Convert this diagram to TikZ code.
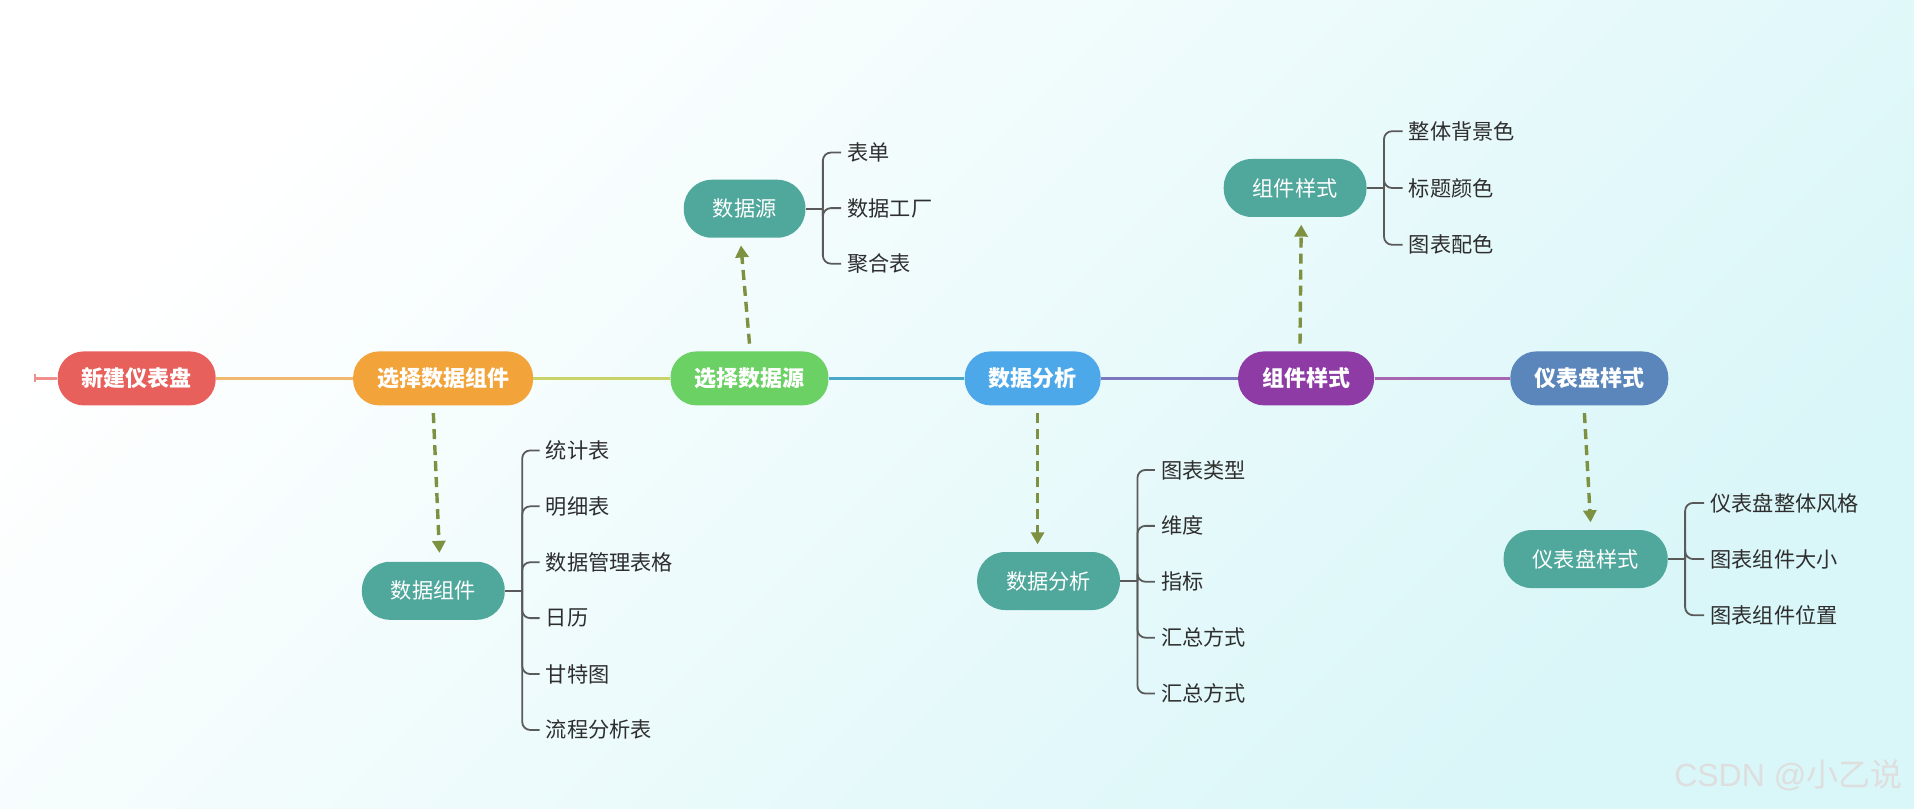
\documentclass[tikz,border=0pt]{standalone}
\usepackage{fontspec}
\setmainfont{Noto Sans CJK SC}
\newfontfamily\wmlatin{Liberation Sans}
\usetikzlibrary{arrows.meta,calc,positioning}

\definecolor{cred}{HTML}{E8605C}
\definecolor{corange}{HTML}{F2A33A}
\definecolor{cgreen}{HTML}{6CD165}
\definecolor{cblue}{HTML}{4DA8EA}
\definecolor{cpurple}{HTML}{8E3BA6}
\definecolor{csteel}{HTML}{5A86BC}
\definecolor{cteal}{HTML}{4FA89B}
\definecolor{colive}{HTML}{7E9140}
\definecolor{brgray}{HTML}{5A5A5A}
\definecolor{leafgray}{HTML}{2E2E2E}
\definecolor{bgcyan}{HTML}{D9F6F8}
\definecolor{sa}{HTML}{F0B870}
\definecolor{sb}{HTML}{C8D468}
\definecolor{sc}{HTML}{4CA8C8}
\definecolor{sd}{HTML}{7C78C0}
\definecolor{se}{HTML}{A866B0}

\tikzset{
    main/.style =   {rectangle,
                    rounded corners=13pt,
                    fill=#1,
                    text=white,
                    font=\fontsize{11}{13}\selectfont\bfseries,
                    inner xsep=12pt,
                    minimum height=27pt},
    sub/.style =    {rectangle,
                    rounded corners=14pt,
                    fill=cteal,
                    text=white,
                    font=\fontsize{10.6}{12}\selectfont,
                    inner xsep=14.5pt,
                    minimum height=29pt},
    leaf/.style =   {anchor=west,
                    text=leafgray,
                    font=\fontsize{10.6}{12}\selectfont,
                    inner xsep=3pt},
    flow/.style =   {draw=colive,
                    line width=1.7pt,
                    dash pattern=on 5pt off 3pt,
                    -{Triangle[width=6.5pt,length=6pt,fill=colive]}},
    bracket/.style ={draw=brgray,
                    line width=0.9pt,
                    rounded corners=4pt},
    spine/.style =  {line width=1.6pt},
    wm/.style =     {text=black!13,
                    font=\fontsize{16}{18}\selectfont}
}

\begin{document}
\begin{tikzpicture}[x=0.6104pt,y=-0.6104pt]
    % background
    \useasboundingbox (0,0) rectangle (1568,662);
    \shade[top color=white,bottom color=bgcyan,shading angle=45] (0,0) rectangle (1568,662);

    % main line
    \coordinate (st) at (28,310);
    \node[main=cred]    (xj) at (112,310)  {新建仪表盘};
    \node[main=corange] (zz) at (363,310)  {选择数据组件};
    \node[main=cgreen]  (ys) at (614,310)  {选择数据源};
    \node[main=cblue]   (fx) at (846,310)  {数据分析};
    \node[main=cpurple] (zs) at (1070,310) {组件样式};
    \node[main=csteel]  (yb) at (1302,310) {仪表盘样式};
    \draw[spine,draw=cred!70,{Bar[width=4pt,line width=1pt]}-] (st) -- (xj);
    \draw[spine,draw=sa] (xj) -- (zz);
    \draw[spine,draw=sb] (zz) -- (ys);
    \draw[spine,draw=sc] (ys) -- (fx);
    \draw[spine,draw=sd] (fx) -- (zs);
    \draw[spine,draw=se] (zs) -- (yb);

    % detail nodes
    \node[sub] (dz)  at (355,484)  {数据组件};
    \node[sub] (sy)  at (610,171)  {数据源};
    \node[sub] (fa)  at (859,476)  {数据分析};
    \node[sub] (cs)  at (1061,154) {组件样式};
    \node[sub] (ybs) at (1299,458) {仪表盘样式};

    \draw[flow] ($(zz.south)+(-8,6)$) -- ($(dz.north)+(5,-7)$);
    \draw[flow] ($(ys.north)+(0,-6)$) -- ($(sy.south)+(-3,6)$);
    \draw[flow] ($(fx.south)+(4,6)$)  -- ($(fa.north)+(-9,-6)$);
    \draw[flow] ($(zs.north)+(-5,-6)$) -- ($(cs.south)+(5,6)$);
    \draw[flow] ($(yb.south)+(-4,6)$) -- ($(ybs.north)+(4,-6)$);

    % leaves
    \foreach \t [count=\i] in {统计表,明细表,数据管理表格,日历,甘特图,流程分析表}
        \node[leaf] (dz\i) at (442,323.2+45.8*\i) {\t};
    \draw[bracket] (dz.east) -- ++(14,0) coordinate (dzj);
    \foreach \i in {1,...,6}
        \draw[bracket] (dzj) |- (dz\i.west);

    \foreach \t [count=\i] in {表单,数据工厂,聚合表}
        \node[leaf] (sy\i) at (689,79.5+45.5*\i) {\t};
    \draw[bracket] (sy.east) -- ++(14,0) coordinate (syj);
    \foreach \i in {1,...,3}
        \draw[bracket] (syj) |- (sy\i.west);

    \foreach \t [count=\i] in {图表类型,维度,指标,汇总方式,汇总方式}
        \node[leaf] (fa\i) at (946,339.2+45.8*\i) {\t};
    \draw[bracket] (fa.east) -- ++(14,0) coordinate (faj);
    \foreach \i in {1,...,5}
        \draw[bracket] (faj) |- (fa\i.west);

    \foreach \t [count=\i] in {整体背景色,标题颜色,图表配色}
        \node[leaf] (cs\i) at (1149,61+46.5*\i) {\t};
    \draw[bracket] (cs.east) -- ++(14,0) coordinate (csj);
    \foreach \i in {1,...,3}
        \draw[bracket] (csj) |- (cs\i.west);

    \foreach \t [count=\i] in {仪表盘整体风格,图表组件大小,图表组件位置}
        \node[leaf] (yb\i) at (1396,366+46*\i) {\t};
    \draw[bracket] (ybs.east) -- ++(14,0) coordinate (ybj);
    \foreach \i in {1,...,3}
        \draw[bracket] (ybj) |- (yb\i.west);

    % watermark
    \node[wm] (csdn) at (1465,635) {{\wmlatin CSDN @}小乙说};
\end{tikzpicture}
\end{document}
